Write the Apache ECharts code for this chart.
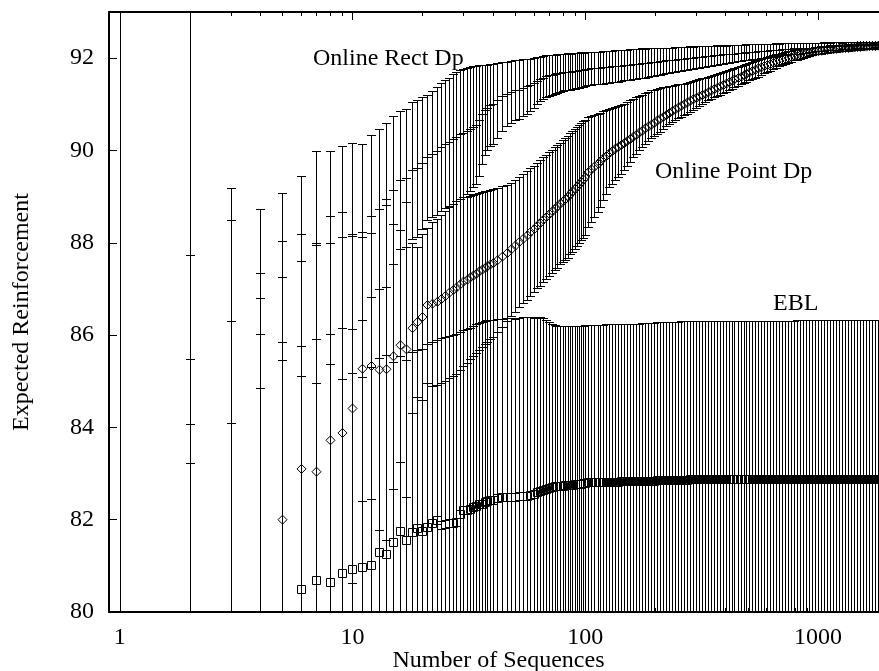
<!DOCTYPE html>
<html><head><meta charset="utf-8">
<script src="https://cdn.jsdelivr.net/npm/echarts@6/dist/echarts.min.js"></script>
<style>html,body{margin:0;padding:0;background:#fff;overflow:hidden}#c{width:879px;height:671px}</style>
</head><body><div id="c"></div>
<script>
const xValues = [
1,2,3,4,5,6,7,8,9,10,11,12,13,14,15,16,17,18,19,20,
21,22,23,24,25,26,27,28,29,30,31,32,33,34,35,36,37,38,39,40,
42,44,46,48,50,52,54,56,58,60,62,64,66,68,70,72,74,76,78,80,
82,84,86,88,90,92,94,96,98,100,
103,106,109,113,116,119,123,127,130,134,
138,143,147,151,156,160,165,170,175,181,
186,192,197,203,209,216,222,229,236,243,
250,258,265,273,281,290,299,307,317,326,
336,346,356,367,378,390,401,413,426,438,
452,465,479,493,508,523,539,555,572,589,
607,625,644,663,683,704,725,746,769,792,
816,840,865,891,918,945,974,1003,1033,1064,
1096,1129,1163,1198,1234,1271,1309,1348,1388,1430,
1473,1517,1563,1610,1658,1708,1759,1812,1866,1922,
1980];

const rectMean = [
78.00,85.48,86.30,86.80,87.26,87.60,87.95,88.00,88.12,88.15,
88.24,88.58,88.73,88.82,89.15,89.36,89.40,89.57,89.61,89.73,
89.85,89.92,89.99,90.07,90.14,90.19,90.25,90.30,90.35,90.38,
90.42,90.46,90.51,90.56,90.65,90.78,90.88,90.93,90.99,91.01,
91.09,91.17,91.23,91.27,91.30,91.32,91.36,91.39,91.42,91.47,
91.51,91.55,91.58,91.61,91.63,91.64,91.65,91.67,91.68,91.69,
91.70,91.71,91.71,91.72,91.73,91.73,91.74,91.75,91.75,91.76,
91.77,91.78,91.78,91.79,91.79,91.80,91.81,91.81,91.82,91.83,
91.83,91.84,91.85,91.85,91.86,91.87,91.87,91.88,91.89,91.89,
91.90,91.91,91.92,91.92,91.93,91.94,91.95,91.95,91.96,91.97,
91.98,91.98,91.99,92.00,92.01,92.01,92.02,92.03,92.03,92.04,
92.05,92.05,92.06,92.07,92.07,92.08,92.08,92.09,92.10,92.10,
92.11,92.11,92.12,92.13,92.13,92.14,92.14,92.15,92.15,92.16,
92.16,92.17,92.17,92.18,92.18,92.19,92.19,92.20,92.20,92.21,
92.21,92.21,92.22,92.22,92.23,92.23,92.24,92.24,92.24,92.25,
92.25,92.25,92.26,92.26,92.26,92.26,92.27,92.27,92.27,92.27,
92.28,92.28,92.28,92.28,92.29,92.29,92.29,92.29,92.30,92.30,
92.30];
const rectErr = [
17.00,2.25,2.20,1.94,1.81,1.84,2.03,1.98,1.97,2.01,
1.91,1.75,1.73,1.78,1.60,1.49,1.50,1.48,1.49,1.43,
1.35,1.37,1.39,1.39,1.39,1.39,1.40,1.40,1.40,1.39,
1.37,1.34,1.31,1.28,1.20,1.08,0.98,0.93,0.89,0.86,
0.81,0.75,0.69,0.67,0.65,0.64,0.62,0.59,0.57,0.54,
0.51,0.48,0.46,0.45,0.44,0.43,0.42,0.42,0.41,0.41,
0.40,0.40,0.39,0.39,0.39,0.38,0.38,0.38,0.37,0.37,
0.36,0.36,0.35,0.35,0.35,0.35,0.34,0.34,0.34,0.34,
0.34,0.33,0.33,0.33,0.33,0.33,0.32,0.32,0.32,0.31,
0.31,0.30,0.30,0.29,0.29,0.28,0.28,0.28,0.27,0.27,
0.26,0.26,0.25,0.25,0.25,0.24,0.24,0.24,0.23,0.23,
0.22,0.22,0.21,0.21,0.20,0.20,0.19,0.19,0.19,0.18,
0.18,0.18,0.17,0.17,0.17,0.16,0.16,0.16,0.15,0.15,
0.15,0.14,0.14,0.14,0.13,0.13,0.13,0.12,0.12,0.12,
0.11,0.11,0.11,0.10,0.10,0.10,0.09,0.09,0.09,0.09,
0.08,0.08,0.08,0.08,0.08,0.07,0.07,0.07,0.07,0.07,
0.06,0.06,0.06,0.06,0.06,0.06,0.05,0.05,0.05,0.05,
0.05];

const pointMean = [
70.00,76.00,77.50,79.00,82.00,83.10,83.04,83.72,83.88,84.41,
85.27,85.33,85.25,85.26,85.54,85.78,85.69,86.15,86.28,86.39,
86.65,86.68,86.72,86.78,86.85,86.92,86.98,87.03,87.10,87.16,
87.20,87.25,87.29,87.33,87.38,87.42,87.46,87.49,87.53,87.56,
87.62,87.70,87.78,87.86,87.94,88.02,88.09,88.16,88.23,88.30,
88.37,88.43,88.50,88.56,88.62,88.68,88.74,88.79,88.85,88.90,
88.95,89.00,89.06,89.11,89.17,89.22,89.27,89.32,89.37,89.42,
89.53,89.59,89.65,89.71,89.77,89.83,89.88,89.94,89.99,90.04,
90.08,90.12,90.16,90.21,90.25,90.30,90.34,90.39,90.43,90.48,
90.52,90.56,90.60,90.65,90.69,90.73,90.77,90.81,90.85,90.89,
90.93,90.97,91.00,91.04,91.08,91.11,91.14,91.17,91.20,91.23,
91.26,91.30,91.33,91.36,91.39,91.42,91.45,91.48,91.51,91.54,
91.57,91.60,91.63,91.66,91.69,91.72,91.75,91.78,91.80,91.83,
91.85,91.87,91.90,91.92,91.94,91.96,91.98,92.00,92.02,92.04,
92.05,92.07,92.08,92.10,92.11,92.12,92.14,92.15,92.16,92.17,
92.18,92.19,92.19,92.20,92.21,92.21,92.22,92.22,92.23,92.23,
92.24,92.24,92.25,92.25,92.26,92.26,92.26,92.27,92.27,92.27,
92.28];
const pointHigh = [
100.00,93.50,89.19,87.35,88.03,88.20,88.00,88.59,88.66,88.20,
88.13,88.21,88.73,88.95,88.41,88.28,88.89,87.99,87.90,88.19,
88.33,88.46,88.52,88.60,88.69,88.77,88.84,88.90,88.95,88.99,
89.00,89.02,89.03,89.05,89.08,89.10,89.12,89.13,89.15,89.16,
89.18,89.22,89.26,89.30,89.37,89.43,89.49,89.55,89.61,89.67,
89.73,89.79,89.85,89.91,89.96,90.02,90.07,90.12,90.17,90.22,
90.27,90.32,90.37,90.42,90.47,90.51,90.55,90.59,90.63,90.67,
90.72,90.74,90.77,90.79,90.82,90.85,90.87,90.90,90.92,90.94,
90.96,90.99,91.01,91.05,91.09,91.12,91.15,91.18,91.21,91.24,
91.27,91.30,91.32,91.34,91.35,91.37,91.38,91.39,91.40,91.42,
91.43,91.44,91.45,91.47,91.48,91.50,91.52,91.54,91.56,91.58,
91.60,91.62,91.64,91.66,91.68,91.70,91.72,91.74,91.76,91.79,
91.81,91.83,91.85,91.87,91.89,91.92,91.94,91.96,91.98,92.00,
92.02,92.04,92.06,92.08,92.10,92.12,92.14,92.15,92.16,92.17,
92.18,92.19,92.20,92.21,92.22,92.23,92.24,92.25,92.26,92.27,
92.27,92.28,92.28,92.28,92.29,92.29,92.29,92.29,92.30,92.30,
92.30,92.30,92.31,92.31,92.31,92.31,92.32,92.32,92.32,92.33,
92.33];
const pointLow = [
40.00,58.50,65.81,70.65,75.97,78.00,78.08,78.85,79.10,80.62,
82.41,82.45,81.77,81.57,82.67,83.25,82.49,84.31,84.66,84.59,
84.97,84.90,84.92,84.96,85.01,85.07,85.12,85.16,85.25,85.33,
85.40,85.48,85.55,85.61,85.68,85.74,85.80,85.85,85.91,85.96,
86.06,86.18,86.30,86.42,86.51,86.61,86.69,86.77,86.85,86.93,
87.01,87.07,87.14,87.21,87.28,87.34,87.41,87.46,87.53,87.58,
87.63,87.68,87.75,87.80,87.87,87.93,87.99,88.05,88.11,88.17,
88.34,88.45,88.56,88.67,88.77,88.92,89.06,89.20,89.28,89.35,
89.43,89.50,89.57,89.67,89.76,89.86,89.93,90.00,90.08,90.15,
90.20,90.26,90.31,90.36,90.41,90.46,90.52,90.57,90.62,90.66,
90.70,90.73,90.76,90.80,90.83,90.88,90.92,90.97,91.01,91.05,
91.09,91.12,91.15,91.18,91.21,91.24,91.27,91.30,91.34,91.37,
91.40,91.44,91.47,91.49,91.52,91.55,91.57,91.60,91.64,91.67,
91.70,91.73,91.77,91.79,91.82,91.85,91.87,91.90,91.92,91.95,
91.97,91.99,92.01,92.03,92.05,92.06,92.08,92.09,92.10,92.11,
92.12,92.13,92.13,92.14,92.15,92.15,92.16,92.16,92.17,92.17,
92.18,92.18,92.19,92.19,92.20,92.20,92.20,92.21,92.21,92.21,
92.22];

const eblMean = [
65.00,76.00,77.00,78.50,79.50,80.50,80.69,80.66,80.84,80.94,
80.98,81.01,81.29,81.26,81.51,81.75,81.56,81.74,81.83,81.75,
81.85,81.92,81.99,81.88,81.90,81.92,81.93,81.95,82.12,82.20,
82.21,82.24,82.27,82.30,82.33,82.35,82.38,82.40,82.42,82.43,
82.46,82.50,82.50,82.50,82.50,82.51,82.51,82.52,82.54,82.56,
82.59,82.62,82.64,82.66,82.69,82.71,82.73,82.73,82.74,82.74,
82.75,82.75,82.76,82.76,82.77,82.77,82.78,82.78,82.79,82.80,
82.81,82.81,82.81,82.81,82.82,82.82,82.82,82.82,82.82,82.82,
82.82,82.83,82.83,82.83,82.83,82.83,82.83,82.83,82.84,82.84,
82.84,82.84,82.84,82.85,82.85,82.85,82.85,82.86,82.86,82.86,
82.86,82.87,82.87,82.87,82.88,82.88,82.88,82.88,82.88,82.88,
82.88,82.88,82.88,82.88,82.88,82.88,82.88,82.88,82.88,82.88,
82.88,82.88,82.88,82.88,82.88,82.88,82.88,82.88,82.88,82.88,
82.88,82.88,82.88,82.88,82.88,82.88,82.88,82.88,82.88,82.88,
82.89,82.89,82.89,82.89,82.89,82.89,82.89,82.89,82.89,82.89,
82.89,82.89,82.89,82.89,82.89,82.89,82.89,82.89,82.89,82.89,
82.89,82.89,82.89,82.89,82.89,82.89,82.89,82.89,82.89,82.89,
82.89];
const eblErr = [
35.00,8.08,9.30,7.52,6.35,4.61,4.27,4.72,4.20,4.23,
4.11,4.30,4.22,4.30,3.91,3.80,3.90,3.90,3.85,3.95,
3.95,3.93,3.90,4.05,4.05,4.06,4.08,4.08,3.95,3.90,
3.92,3.92,3.93,3.93,3.93,3.93,3.93,3.92,3.91,3.90,
3.88,3.85,3.86,3.87,3.85,3.86,3.88,3.88,3.86,3.82,
3.81,3.78,3.74,3.67,3.59,3.53,3.48,3.47,3.46,3.46,
3.45,3.45,3.44,3.44,3.43,3.43,3.42,3.42,3.41,3.41,
3.40,3.40,3.40,3.40,3.40,3.40,3.41,3.41,3.41,3.41,
3.41,3.41,3.42,3.42,3.42,3.42,3.42,3.42,3.42,3.43,
3.43,3.43,3.43,3.43,3.43,3.43,3.43,3.43,3.43,3.43,
3.43,3.43,3.43,3.43,3.43,3.43,3.43,3.43,3.43,3.43,
3.43,3.43,3.43,3.43,3.43,3.43,3.43,3.43,3.43,3.43,
3.43,3.43,3.43,3.43,3.43,3.43,3.43,3.43,3.43,3.43,
3.43,3.43,3.43,3.43,3.43,3.43,3.43,3.43,3.43,3.43,
3.43,3.43,3.43,3.43,3.43,3.43,3.43,3.43,3.43,3.43,
3.43,3.43,3.43,3.43,3.43,3.43,3.43,3.43,3.43,3.43,
3.43,3.43,3.43,3.43,3.43,3.43,3.43,3.43,3.43,3.43,
3.43];

const xMajorTicks = [1, 10, 100, 1000];
const xMinorTicks = [2,3,4,5,6,7,8,9,20,30,40,50,60,70,80,90,200,300,400,500,600,700,800,900];
const seriesLabels = ['Online Rect Dp', 'Online Point Dp', 'EBL'];

const FONT = '"Liberation Serif", "Times New Roman", serif';
const chart = echarts.init(document.getElementById('c'), null, {renderer: 'canvas'});

const rectData = xValues.map((x, i) => [x, rectMean[i], rectMean[i] - rectErr[i], rectMean[i] + rectErr[i]]);
const pointData = xValues.map((x, i) => [x, pointMean[i], pointLow[i], pointHigh[i]]);
const eblData = xValues.map((x, i) => [x, eblMean[i], eblMean[i] - eblErr[i], eblMean[i] + eblErr[i]]);

const LS = {stroke: '#000', lineWidth: 1, fill: 'none'};
const CAP = 4.5;
function snap(v) { return Math.round(v) + 0.5; }
function makeRender(marker) {
  return function (params, api) {
    const x = api.value(0);
    const pM = api.coord([x, api.value(1)]);
    const pLo = api.coord([x, api.value(2)]);
    const pHi = api.coord([x, api.value(3)]);
    const px = snap(pM[0]);
    const yl = snap(pLo[1]), yh = snap(pHi[1]), ym = pM[1];
    const ch = [
      {type: 'line', shape: {x1: px, y1: yl, x2: px, y2: yh}, style: LS},
      {type: 'line', shape: {x1: px - CAP, y1: yl, x2: px + CAP, y2: yl}, style: LS},
      {type: 'line', shape: {x1: px - CAP, y1: yh, x2: px + CAP, y2: yh}, style: LS}
    ];
    if (marker === 'plus') {
      const y = snap(ym);
      ch.push({type: 'line', shape: {x1: px - 4.5, y1: y, x2: px + 4.5, y2: y}, style: LS});
      ch.push({type: 'line', shape: {x1: px, y1: y - 4.5, x2: px, y2: y + 4.5}, style: LS});
    } else if (marker === 'diamond') {
      ch.push({type: 'polygon', shape: {points: [[px, ym - 4.5], [px + 4.5, ym], [px, ym + 4.5], [px - 4.5, ym]]}, style: LS});
    } else {
      ch.push({type: 'rect', shape: {x: px - 4, y: snap(ym) - 4, width: 8, height: 8}, style: LS});
    }
    return {type: 'group', children: ch};
  };
}
function makeTicks(len) {
  return function (params, api) {
    const cs = params.coordSys;
    const p = api.coord([api.value(0), 80]);
    const px = snap(p[0]);
    const top = cs.y, bot = cs.y + cs.height;
    return {type: 'group', children: [
      {type: 'line', shape: {x1: px, y1: top, x2: px, y2: top + len}, style: LS},
      {type: 'line', shape: {x1: px, y1: bot, x2: px, y2: bot - len}, style: LS}
    ]};
  };
}

const axisFont = {fontFamily: FONT, fontSize: 24, color: '#000'};
const option = {
  animation: false,
  backgroundColor: '#fff',
  grid: {left: 109, right: -9, top: 12, bottom: 59, containLabel: false, outerBoundsMode: 'none'},
  xAxis: [{
    type: 'log', logBase: 10, min: 0.9, max: 2000, splitNumber: 3, position: 'bottom',
    axisLine: {show: true, lineStyle: {color: '#000', width: 2}},
    axisTick: {show: false}, splitLine: {show: false}, minorTick: {show: false},
    axisLabel: Object.assign({margin: 14, formatter: function (v) {
      const l = Math.log10(v); return Math.abs(l - Math.round(l)) < 1e-6 && v >= 1 ? String(Math.round(v)) : '';
    }}, axisFont),
    name: 'Number of Sequences', nameLocation: 'middle', nameGap: 37, nameMoveOverlap: false, nameTextStyle: axisFont
  }, {
    type: 'log', logBase: 10, min: 0.9, max: 2000, position: 'top',
    axisLine: {show: true, lineStyle: {color: '#000', width: 2}},
    axisTick: {show: false}, axisLabel: {show: false}, splitLine: {show: false}
  }],
  yAxis: [{
    type: 'value', min: 80, max: 93, interval: 2,
    axisLine: {show: true, lineStyle: {color: '#000', width: 2}},
    axisTick: {show: true, inside: true, length: 8, lineStyle: {color: '#000', width: 1}},
    splitLine: {show: false},
    axisLabel: Object.assign({margin: 15, showMaxLabel: false, formatter: function (v) { return v % 2 === 0 ? String(v) : ''; }}, axisFont),
    name: 'Expected Reinforcement', nameLocation: 'middle', nameRotate: 90, nameGap: 75, nameMoveOverlap: false, nameTextStyle: axisFont
  }],
  series: [
    {type: 'custom', name: seriesLabels[0], data: rectData, encode: {x: 0, y: [1, 2, 3]}, renderItem: makeRender('plus'), clip: true, silent: true},
    {type: 'custom', name: seriesLabels[1], data: pointData, encode: {x: 0, y: [1, 2, 3]}, renderItem: makeRender('diamond'), clip: true, silent: true},
    {type: 'custom', name: seriesLabels[2], data: eblData, encode: {x: 0, y: [1, 2, 3]}, renderItem: makeRender('square'), clip: true, silent: true},
    {type: 'custom', name: 'majorTicks', data: xMajorTicks.map(v => [v]), encode: {x: 0}, renderItem: makeTicks(8), clip: false, silent: true},
    {type: 'custom', name: 'minorTicks', data: xMinorTicks.map(v => [v]), encode: {x: 0}, renderItem: makeTicks(4), clip: false, silent: true}
  ],
  graphic: [
    {type: 'text', x: 313, y: 59, style: {text: seriesLabels[0], font: '24px ' + FONT, fill: '#000', align: 'left', verticalAlign: 'middle', textAlign: 'left', textVerticalAlign: 'middle'}},
    {type: 'text', x: 655, y: 172, style: {text: seriesLabels[1], font: '24px ' + FONT, fill: '#000', align: 'left', verticalAlign: 'middle', textAlign: 'left', textVerticalAlign: 'middle'}},
    {type: 'text', x: 773, y: 304, style: {text: seriesLabels[2], font: '24px ' + FONT, fill: '#000', align: 'left', verticalAlign: 'middle', textAlign: 'left', textVerticalAlign: 'middle'}}
  ]
};
chart.setOption(option);
</script>
</body></html>
